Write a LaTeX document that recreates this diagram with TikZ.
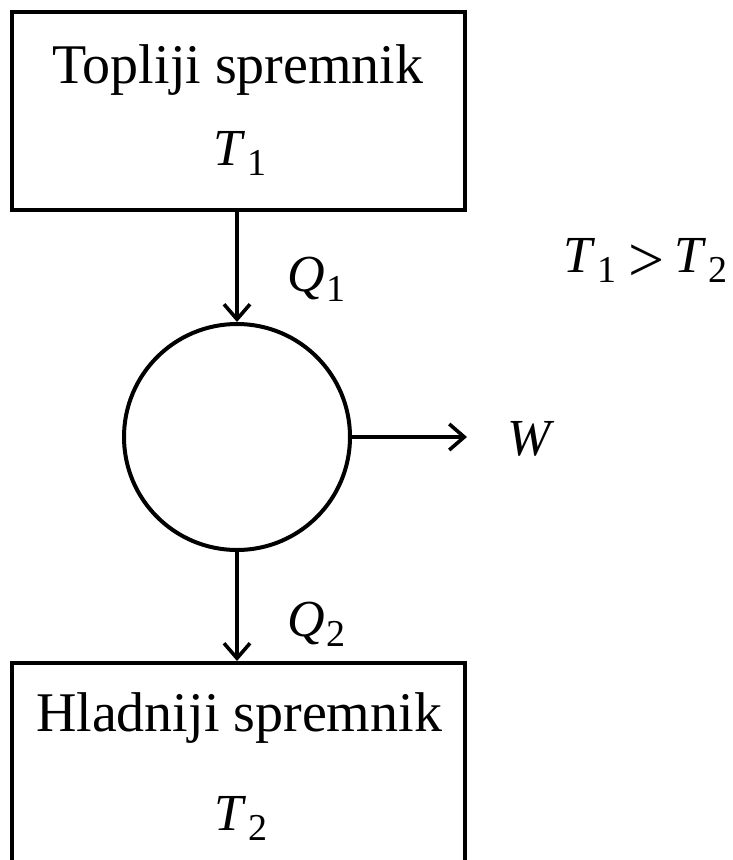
\documentclass[tikz,border=0pt]{standalone}
\usepackage{fontspec}
\setmainfont{Liberation Serif}
\usetikzlibrary{arrows.meta}
\newcommand{\symb}[2]{\textit{#1}\kern2pt\raisebox{-10pt}{\fontsize{38}{40}\selectfont #2}}
\tikzset{
  tank/.style={draw,line width=4pt,minimum width=453pt,inner sep=0pt},
  label/.style={font=\fontsize{56}{60}\selectfont,inner sep=0pt,anchor=base},
  sym/.style={font=\fontsize{52}{56}\selectfont,inner sep=0pt,anchor=base west},
  arrow/.style={-{Straight Barb[length=15pt,width=26pt]},line width=3.6pt},
}
\begin{document}
\begin{tikzpicture}[x=1pt,y=-1pt]
\clip (0,0) rectangle (732,860);
\fill[white] (0,0) rectangle (732,860);
\node[tank,minimum height=198pt] (hot) at (238.5,111) {};
\node[tank,minimum height=230pt] (cold) at (238.5,778) {};
\node[draw,circle,line width=4pt,minimum size=226pt,inner sep=0pt] (engine) at (237,437) {};
\node[label] (hotname) at (238,83) {Topliji spremnik};
\node[sym] (thot) at (213,165) {\symb{T}{1}};
\node[label] (coldname) at (239,731) {Hladniji spremnik};
\node[sym] (tcold) at (214,830) {\symb{T}{2}};
\node[sym] (qin) at (287,291) {\symb{Q}{1}};
\node[sym] (qout) at (287,636) {\symb{Q}{2}};
\node[sym] (work) at (507,455) {\textit{W}};
\node[sym] (cond) at (563,272) {\symb{T}{1}\kern12pt\raisebox{-9pt}{\fontsize{64}{64}\selectfont >}\kern10pt\symb{T}{2}};
\coordinate (wtip) at (467,437);
\draw[arrow] (hot.south -| engine) -- (engine);
\draw[arrow] (engine) -- (wtip);
\draw[arrow] (engine) -- (cold.north -| engine);
\end{tikzpicture}
\end{document}
